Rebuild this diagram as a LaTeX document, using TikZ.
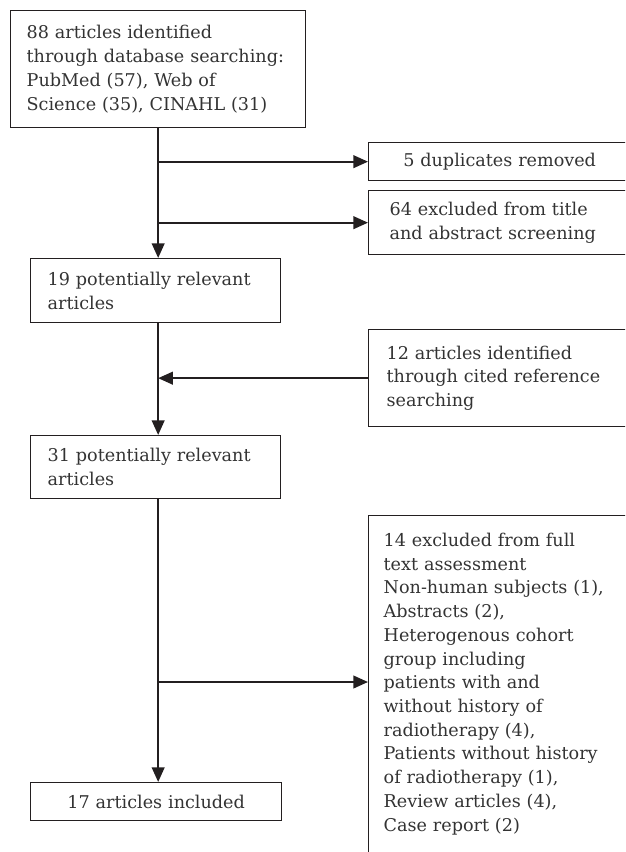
\documentclass[tikz,border=0pt]{standalone}
\usepackage{fontspec}
\setmainfont{DejaVu Serif}
\usepackage{xcolor}
\usepackage{tikz}
\usetikzlibrary{arrows.meta}

\definecolor{inkline}{HTML}{231F20}
\definecolor{inktext}{HTML}{333333}
\newcommand{\flowfont}{\fontsize{13.2}{17.8}\selectfont}

\begin{document}
\begin{tikzpicture}[
    x=0.75pt, y=-0.75pt,
    box/.style={rectangle, draw=inkline, line width=1pt, anchor=north west,
                inner ysep=0pt, text=inktext, font=\flowfont},
    mainbox/.style={box, text width=162pt, inner xsep=12.75pt,
                    minimum height=48pt, align=left},
    sidebox/.style={box, text width=169.5pt, inner xsep=13.5pt, align=left},
    flow/.style={draw=inkline, line width=1.5pt,
                 -{Triangle[length=11pt, width=9.5pt]}},
]
  \useasboundingbox (0,0) rectangle (625,852);
  \clip (0,0) rectangle (625,852);

  % main column
  \node[box, text width=197.25pt, inner xsep=12pt, minimum height=87.75pt,
        align=left] (ident) at (10,10)
        {88 articles identified\\through database searching:\\PubMed (57), Web of\\Science (35), CINAHL (31)};
  \node[mainbox] (rel19) at (30,258) {19 potentially relevant\\articles};
  \node[mainbox, minimum height=47.25pt] (rel31) at (30,435) {31 potentially relevant\\articles};
  \node[box, text width=162.75pt, inner xsep=12.75pt, minimum height=28.5pt,
        align=center] (incl) at (30,782) {17 articles included};

  % side boxes
  \node[sidebox, align=center, minimum height=28.5pt] (dup) at (368,142) {5 duplicates removed};
  \node[sidebox, inner xsep=15.75pt, text width=165pt, minimum height=48pt] (scr) at (368,190)
        {64 excluded from title\\and abstract screening};
  \node[sidebox, minimum height=72.75pt] (cited) at (368,329)
        {12 articles identified\\through cited reference\\searching};
  \node[sidebox, inner xsep=11.25pt, text width=174pt, inner ysep=13pt] (full) at (368,515)
        {14 excluded from full\\text assessment\\Non-human subjects (1),\\Abstracts (2),\\Heterogenous cohort\\group including\\patients with and\\without history of\\radiotherapy (4),\\Patients without history\\of radiotherapy (1),\\Review articles (4),\\Case report (2)\rule[-24pt]{0pt}{24pt}};
  \coordinate (fullin) at (368,682);

  % connectors
  \draw[flow] (ident.south) -- (ident.south |- rel19.north);
  \draw[flow] (ident.south |- dup.west) -- (dup.west);
  \draw[flow] (ident.south |- scr.west) -- (scr.west);
  \draw[flow] (ident.south |- rel19.south) -- (ident.south |- rel31.north);
  \draw[flow] (cited.west) -- (ident.south |- cited.west);
  \draw[flow] (ident.south |- rel31.south) -- (ident.south |- incl.north);
  \draw[flow] (ident.south |- fullin) -- (fullin);
\end{tikzpicture}
\end{document}
